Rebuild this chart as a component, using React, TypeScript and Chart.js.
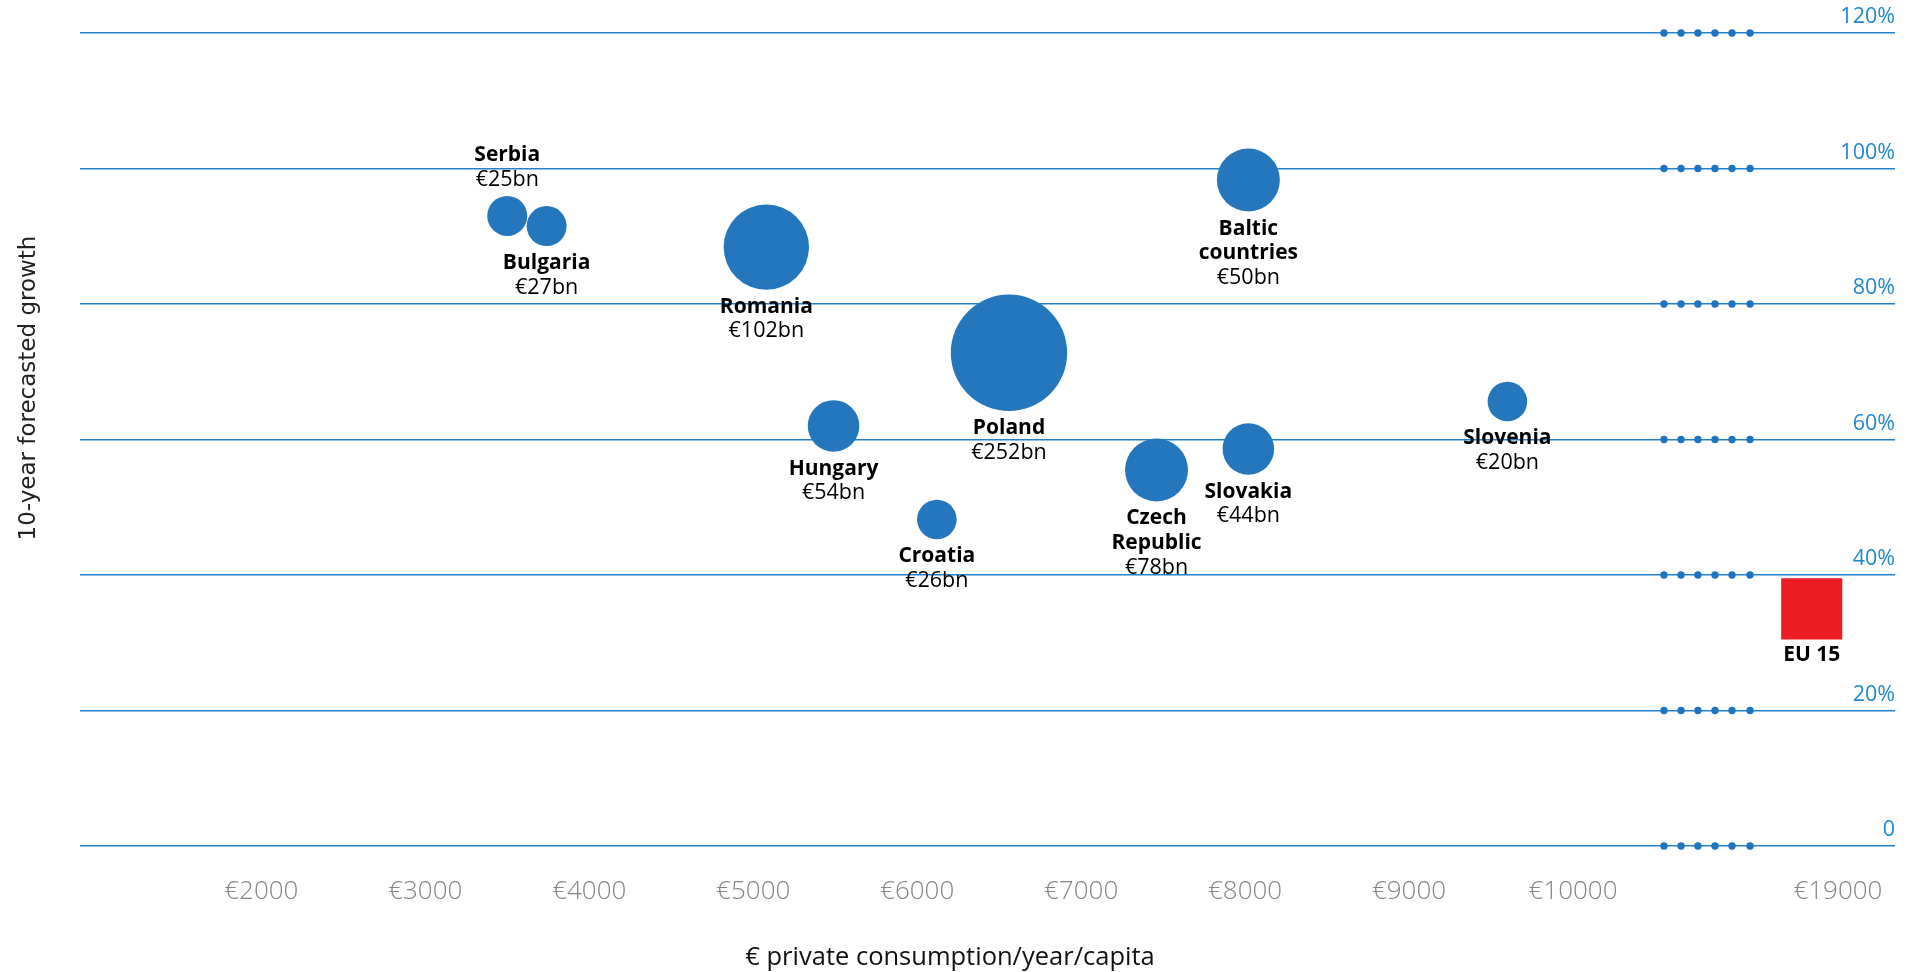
import React, { useEffect, useRef } from 'react';
import { Chart, registerables } from 'chart.js';

Chart.register(...registerables);

// ---- Data ----
const labelLines: string[][] = [
  ['Serbia'], ['Bulgaria'], ['Romania'], ['Poland'], ['Hungary'], ['Croatia'],
  ['Czech', 'Republic'], ['Slovakia'], ['Baltic', 'countries'], ['Slovenia'],
];
const consumption = [3500, 3740, 5080, 6560, 5490, 6120, 7460, 8020, 8020, 9600];
const growth = [93, 91.5, 88.4, 72.8, 62.0, 48.2, 55.5, 58.6, 98.3, 65.6];
const marketBn = [25, 27, 102, 252, 54, 26, 78, 44, 50, 20];
const bubbleRadius = [20, 20, 42.7, 58.2, 25.8, 19.8, 31.5, 25.8, 31.5, 19.8];
const labelAbove = [true, false, false, false, false, false, false, false, false, false];

const eu15Label = 'EU 15';
const eu15Consumption = 18840;
const eu15Growth = 35;
const eu15Size = 43.2;

const xTicks = [2000, 3000, 4000, 5000, 6000, 7000, 8000, 9000, 10000, 19000];
const yTicks = [0, 20, 40, 60, 80, 100, 120];
// broken x-axis: values beyond the break are shifted onto the compressed end
const BREAK_AT = 10500;
const AXIS_19000 = 11616;
const toAxis = (v: number) => (v > BREAK_AT ? v - 19000 + AXIS_19000 : v);
const fromAxis = (a: number) => (a > BREAK_AT ? Math.round(a - AXIS_19000 + 19000) : Math.round(a));
const breakDotsX = [10555, 10659, 10762, 10866, 10970, 11080];

const BLUE = '#2577bd';
const GRID = '#2282cb';
const FONT = '"Open Sans", "Noto Sans", sans-serif';

const zeroPad = (s: any) => {
  s.paddingTop = 0;
  s.paddingBottom = 0;
  s.paddingLeft = 0;
  s.paddingRight = 0;
};

const labelPlugin = {
  id: 'bubbleLabels',
  afterDatasetsDraw(chart: any) {
    const ctx = chart.ctx as CanvasRenderingContext2D;
    ctx.save();
    ctx.textAlign = 'center';
    ctx.textBaseline = 'middle';
    ctx.fillStyle = '#000';
    const LH = 24.5;
    const meta = chart.getDatasetMeta(0);
    meta.data.forEach((el: any, i: number) => {
      const r = el.options.radius;
      const lines = [
        ...labelLines[i].map((t) => ({ t, bold: true })),
        { t: '€' + marketBn[i] + 'bn', bold: false },
      ];
      const y0 = labelAbove[i]
        ? el.y - r - 16 - (lines.length - 1) * LH
        : el.y + r + 17;
      lines.forEach((ln, k) => {
        ctx.font = (ln.bold ? '700 21px ' : '400 21.5px ') + FONT;
        ctx.fillText(ln.t, el.x, y0 + k * LH);
      });
    });
    const m2 = chart.getDatasetMeta(1);
    const e = m2.data[0];
    if (e) {
      const half = e.options.radius * Math.SQRT1_2;
      ctx.font = '700 21px ' + FONT;
      ctx.fillText(eu15Label, e.x, e.y + half + 16);
    }
    // axis titles
    ctx.fillStyle = '#111';
    ctx.font = '400 25.5px ' + FONT;
    ctx.fillText('€ private consumption/year/capita', 950, 958);
    ctx.save();
    ctx.translate(29, 388);
    ctx.rotate(-Math.PI / 2);
    ctx.font = '400 23px "DejaVu Sans", sans-serif';
    ctx.fillStyle = '#222';
    ctx.fillText('10-year forecasted growth', 0, 0);
    ctx.restore();
    ctx.restore();
  },
};

export default function App() {
  const ref = useRef<HTMLCanvasElement>(null);
  useEffect(() => {
    if (!ref.current) return;
    const dotData: { x: number; y: number }[] = [];
    yTicks.forEach((y) => breakDotsX.forEach((x) => dotData.push({ x, y })));
    const chart = new Chart(ref.current, {
      type: 'bubble',
      data: {
        datasets: [
          {
            label: 'Countries',
            data: consumption.map((c, i) => ({ x: toAxis(c), y: growth[i], r: bubbleRadius[i] })),
            backgroundColor: BLUE,
            borderWidth: 0,
            clip: false,
          } as any,
          {
            label: eu15Label,
            data: [{ x: toAxis(eu15Consumption), y: eu15Growth, r: eu15Size }],
            backgroundColor: '#ed1c24',
            borderWidth: 0,
            pointStyle: 'rect',
            clip: false,
          } as any,
          {
            type: 'scatter',
            label: 'break',
            data: dotData,
            backgroundColor: '#1f74bf',
            borderWidth: 0,
            pointRadius: 3.7,
            showLine: false,
            clip: false,
          } as any,
        ],
      },
      options: {
        animation: false,
        responsive: true,
        maintainAspectRatio: false,
        layout: { autoPadding: false, padding: { left: 80, right: 19, top: 33, bottom: 0 } },
        plugins: { legend: { display: false }, tooltip: { enabled: false } },
        scales: {
          x: {
            type: 'linear',
            min: 894,
            max: 11964,
            grid: { display: false },
            border: { display: false },
            afterBuildTicks: (s: any) => {
              s.ticks = xTicks.map((v) => ({ value: toAxis(v) }));
            },
            afterFit: (s: any) => {
              s.height = 126;
              zeroPad(s);
            },
            ticks: {
              autoSkip: false,
              maxRotation: 0,
              padding: 22,
              color: '#858585',
              font: { family: FONT, size: 26, weight: '300' as any },
              callback: (v: any) => '€' + fromAxis(Number(v)),
            },
          },
          y: {
            type: 'linear',
            position: 'right',
            min: 0,
            max: 120,
            afterBuildTicks: (s: any) => {
              s.ticks = yTicks.map((v) => ({ value: v }));
            },
            afterFit: (s: any) => {
              s.width = 0;
              zeroPad(s);
            },
            grid: { color: GRID, lineWidth: 1.5, drawTicks: false },
            border: { display: false },
            ticks: {
              mirror: true,
              padding: 0,
              labelOffset: -16,
              color: '#1f88d2',
              font: { family: FONT, size: 21.5, weight: '400' as any },
              callback: (v: any) => (Number(v) === 0 ? '0' : v + '%'),
            },
          },
        },
      },
      plugins: [labelPlugin],
    });
    return () => chart.destroy();
  }, []);
  return (
    <div style={{ position: 'absolute', left: 0, top: 0, width: 1914, height: 972, background: '#fff' }}>
      <canvas ref={ref} />
    </div>
  );
}
